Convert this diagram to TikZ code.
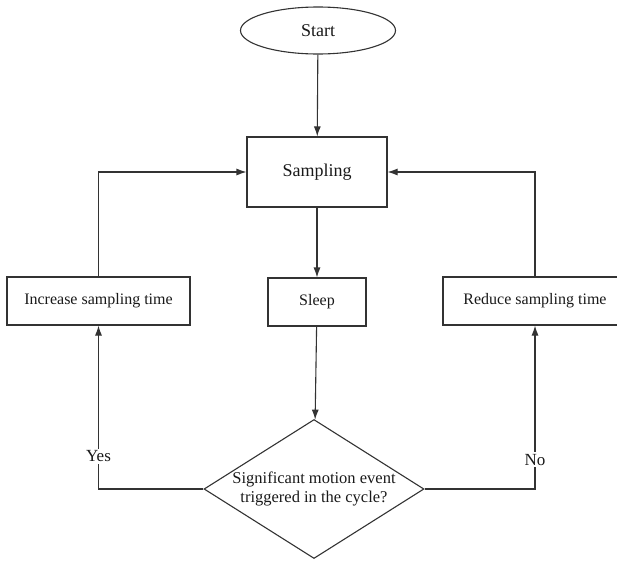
\documentclass[tikz,border=0pt]{standalone}
\usepackage{fontspec}
\setmainfont{Liberation Serif}
\usetikzlibrary{arrows.meta,shapes.geometric}

\begin{document}
\begin{tikzpicture}[x=1pt,y=-1pt,>={Latex[length=10pt,width=7pt]},
  every node/.style={text=black!90,font=\fontsize{16}{19}\selectfont},
  flow/.style={draw=black!80,line width=1.1pt},
  procbox/.style={flow,rectangle,minimum height=48pt,inner sep=0pt},
  termbox/.style={flow,ellipse,minimum width=155pt,minimum height=47pt,inner sep=0pt,font=\fontsize{18}{21}\selectfont},
  decbox/.style={flow,diamond,aspect=1.6,minimum width=220pt,minimum height=139pt,inner sep=0pt,align=center,font=\fontsize{16.5}{19.5}\selectfont},
  answer/.style={fill=white,inner sep=2pt,font=\fontsize{17}{20}\selectfont}]
\useasboundingbox (0,0) rectangle (617,560);
% nodes
\node[termbox] (start) at (318,30.5) {Start};
\node[procbox,minimum width=140pt,minimum height=70pt,font=\fontsize{18}{21}\selectfont] (samp) at (317,172) {Sampling};
\node[procbox,minimum width=98pt] (sleep) at (317,302) {Sleep};
\node[procbox,minimum width=183pt] (inc) at (98.5,301) {Increase sampling time};
\node[procbox,minimum width=184pt] (red) at (535,301) {Reduce sampling time};
\node[decbox] (motion) at (314,489) {Significant motion event\\triggered in the cycle?};
% main line
\draw[flow,->] (start) -- (samp);
\draw[flow,->] (samp) -- (sleep);
\draw[flow,->] (sleep) -- (motion);
% answers
\draw[flow,->] (motion.west) -| (inc.south) node[answer,pos=0.6] {Yes};
\draw[flow,->] (motion.east) -| (red.south) node[answer,pos=0.59] {No};
% back to sampling
\draw[flow,->] (inc.north) |- (samp.west);
\draw[flow,->] (red.north) |- (samp.east);
\end{tikzpicture}
\end{document}
